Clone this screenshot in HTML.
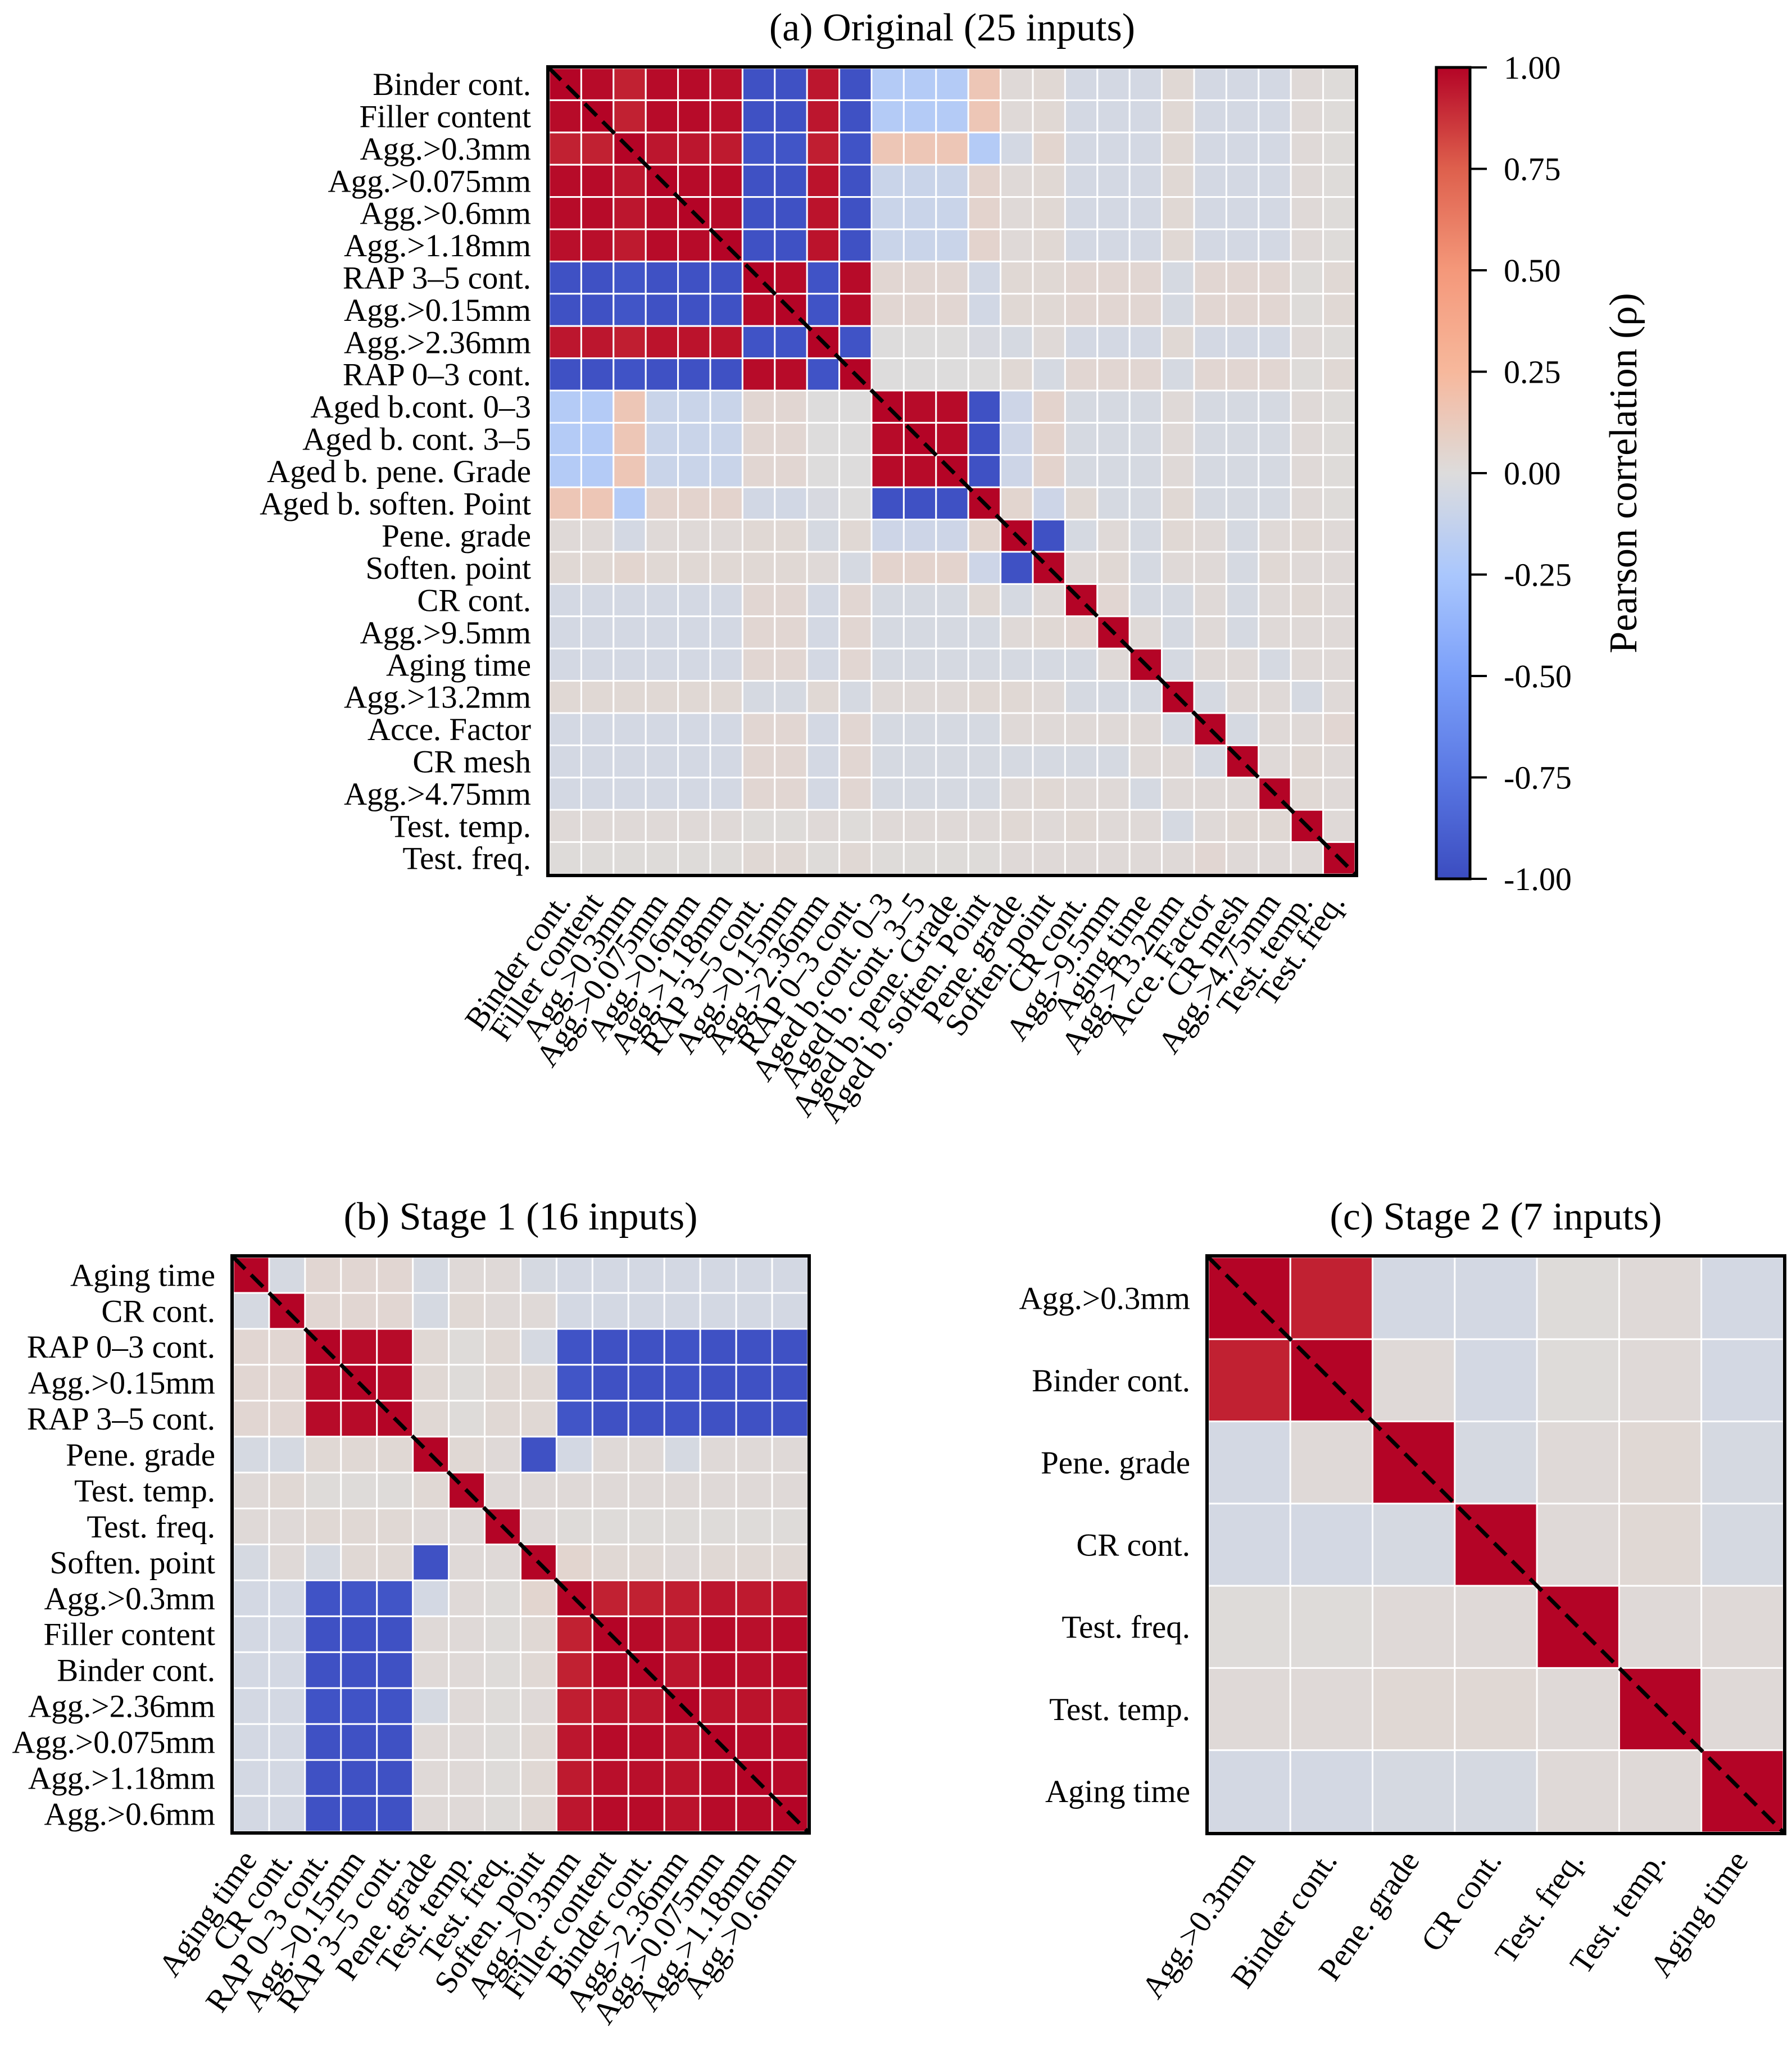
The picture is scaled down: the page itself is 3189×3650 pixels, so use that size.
<!DOCTYPE html>
<html><head><meta charset="utf-8"><style>
html,body{margin:0;padding:0;background:#fff;}
svg{display:block;}
text{font-family:"Liberation Serif",serif;fill:#000;}
</style></head><body>
<svg id="fig" width="3189" height="3650" viewBox="0 0 3189 3650" xmlns="http://www.w3.org/2000/svg">
<defs><linearGradient id="cbgrad" x1="0" y1="1" x2="0" y2="0"></linearGradient></defs>
</svg>
<script>
// ---- data ----
const labelsA = ["Binder cont.","Filler content","Agg.>0.3mm","Agg.>0.075mm","Agg.>0.6mm","Agg.>1.18mm","RAP 3–5 cont.","Agg.>0.15mm","Agg.>2.36mm","RAP 0–3 cont.","Aged b.cont. 0–3","Aged b. cont. 3–5","Aged b. pene. Grade","Aged b. soften. Point","Pene. grade","Soften. point","CR cont.","Agg.>9.5mm","Aging time","Agg.>13.2mm","Acce. Factor","CR mesh","Agg.>4.75mm","Test. temp.","Test. freq."];
// rows 0-13: all 25 columns
const rowsTop = [
[1,.98,.92,.98,.98,.97,-.97,-.97,.95,-.97,-.2,-.2,-.2,.15, .02,.03,-.05,-.05,-.05,.03,-.05,-.05,-.05,.02,.01],
[.98,1,.92,.98,.98,.97,-.97,-.97,.95,-.97,-.2,-.2,-.2,.15, .02,.03,-.05,-.05,-.05,.03,-.05,-.05,-.05,.02,.01],
[.92,.92,1,.95,.95,.94,-.95,-.95,.93,-.96,.15,.15,.15,-.2, -.05,.05,-.05,-.05,-.05,.03,-.05,-.05,-.05,.02,.01],
[.98,.98,.95,1,.98,.98,-.97,-.97,.96,-.97,-.1,-.1,-.1,.06, .02,.03,-.05,-.05,-.05,.03,-.05,-.05,-.05,.02,.01],
[.98,.98,.95,.98,1,.98,-.97,-.97,.96,-.97,-.1,-.1,-.1,.06, .02,.03,-.05,-.05,-.05,.03,-.05,-.05,-.05,.02,.01],
[.97,.97,.94,.98,.98,1,-.97,-.97,.96,-.97,-.1,-.1,-.1,.06, .02,.03,-.05,-.05,-.05,.03,-.05,-.05,-.05,.02,.01],
[-.97,-.97,-.95,-.97,-.97,-.97,1,.98,-.96,.98,.04,.04,.04,-.06, .03,.03,.04,.04,.04,-.04,.04,.04,.04,.01,.03],
[-.97,-.97,-.95,-.97,-.97,-.97,.98,1,-.96,.98,.04,.04,.04,-.06, .03,.03,.04,.04,.04,-.04,.04,.04,.04,.01,.03],
[.95,.95,.93,.96,.96,.96,-.96,-.96,1,-.96,0,0,0,-.03, -.04,.02,-.05,-.05,-.05,.03,-.05,-.05,-.05,.02,.01],
[-.97,-.97,-.96,-.97,-.97,-.97,.98,.98,-.96,1,0,0,0,0, .03,-.04,.04,.04,.04,-.04,.04,.04,.04,.01,.03],
[-.2,-.2,.15,-.1,-.1,-.1,.04,.04,0,0,1,.98,.98,-.97, -.08,.06,-.04,-.04,-.04,.02,-.04,-.04,-.04,.02,.01],
[-.2,-.2,.15,-.1,-.1,-.1,.04,.04,0,0,.98,1,.98,-.97, -.08,.06,-.04,-.04,-.04,.02,-.04,-.04,-.04,.02,.01],
[-.2,-.2,.15,-.1,-.1,-.1,.04,.04,0,0,.98,.98,1,-.97, -.08,.06,-.04,-.04,-.04,.02,-.04,-.04,-.04,.02,.01],
[.15,.15,-.2,.06,.06,.06,-.06,-.06,-.03,0,-.97,-.97,-.97,1, .05,-.08,.03,-.04,-.04,.03,-.04,-.04,-.04,.02,.01]
];
// rows 14-24: columns 14-24 (columns 0-13 mirror rowsTop)
const rowsBottom = [
[1,-.97,-.04,.02,-.04,.03,.02,-.04,.02,.03,.02],
[-.97,1,.02,.03,-.04,.02,.02,-.04,.03,.02,.02],
[-.04,.02,1,.04,-.04,-.04,.02,-.04,.02,.03,.02],
[.02,.03,.04,1,.02,-.04,.02,-.04,.02,.02,.02],
[-.04,-.04,-.04,.02,1,-.04,.02,.02,-.04,.02,.02],
[.03,.02,-.04,-.04,-.04,1,-.04,.02,.02,-.04,.02],
[.02,.02,.02,.02,.02,-.04,1,-.04,.02,.02,.04],
[-.04,-.04,-.04,-.04,.02,.02,-.04,1,.02,.03,.02],
[.02,.03,.02,.02,-.04,.02,.02,.02,1,.03,.02],
[.03,.02,.03,.02,.02,-.04,.02,.03,.03,1,.02],
[.02,.02,.02,.02,.02,.02,.04,.02,.02,.02,1]
];
const labelsB = ["Aging time","CR cont.","RAP 0–3 cont.","Agg.>0.15mm","RAP 3–5 cont.","Pene. grade","Test. temp.","Test. freq.","Soften. point","Agg.>0.3mm","Filler content","Binder cont.","Agg.>2.36mm","Agg.>0.075mm","Agg.>1.18mm","Agg.>0.6mm"];
const labelsC = ["Agg.>0.3mm","Binder cont.","Pene. grade","CR cont.","Test. freq.","Test. temp.","Aging time"];
const cbTicks = [1,0.75,0.5,0.25,0,-0.25,-0.5,-0.75,-1];
const cbTickLabels = ["1.00","0.75","0.50","0.25","0.00","-0.25","-0.50","-0.75","-1.00"];

// ---- build full matrix ----
const N = labelsA.length;
const M = [];
for (let i=0;i<N;i++){ M.push(new Array(N).fill(0)); }
for (let i=0;i<rowsTop.length;i++) for (let j=0;j<N;j++){ M[i][j]=rowsTop[i][j]; M[j][i]=rowsTop[i][j]; }
for (let i=0;i<rowsBottom.length;i++) for (let j=0;j<rowsBottom[i].length;j++){ M[14+i][14+j]=rowsBottom[i][j]; }
function corr(a,b){ return M[labelsA.indexOf(a)][labelsA.indexOf(b)]; }

// ---- coolwarm ----
const cw = [[0,59,76,192],[.125,89,119,227],[.25,123,159,249],[.375,170,199,253],[.5,221,220,220],[.625,247,184,156],[.75,244,152,122],[.875,222,96,77],[1,180,4,38]];
function color(v){
  let t=(v+1)/2; t=Math.max(0,Math.min(1,t));
  for(let k=0;k<cw.length-1;k++){
    const a=cw[k],b=cw[k+1];
    if(t<=b[0]){ const f=(t-a[0])/(b[0]-a[0]);
      return `rgb(${Math.round(a[1]+f*(b[1]-a[1]))},${Math.round(a[2]+f*(b[2]-a[2]))},${Math.round(a[3]+f*(b[3]-a[3]))})`; }
  }
  return "rgb(180,4,38)";
}

const svg=document.getElementById('fig');
const NS="http://www.w3.org/2000/svg";
function el(tag,attrs,parent){ const e=document.createElementNS(NS,tag); for(const k in attrs) e.setAttribute(k,attrs[k]); (parent||svg).appendChild(e); return e; }

function heatmap(name,labels,x0,y0,size,fontSize,title,titleY){
  const g=el('g',{});
  
  
  const n=labels.length, cs=size/n;
  const xs=i=>x0+i*cs;
  for(let r=0;r<n;r++) for(let c=0;c<n;c++){
    const v=corr(labels[r],labels[c]);
    const rc=el('rect',{x:xs(c),y:y0+r*cs,width:cs,height:cs,fill:color(v),stroke:'#fff','stroke-width':3},g);
    
    
  }
  const dl=el('line',{x1:x0,y1:y0,x2:x0+size,y2:y0+size,stroke:'#000','stroke-width':7,'stroke-dasharray':'30 15'},g);
  
  
  const fr=el('rect',{x:x0-2,y:y0-2,width:size+4,height:size+4,fill:'none',stroke:'#000','stroke-width':6},g);
  
  
  for(let i=0;i<n;i++){
    const t=el('text',{x:x0-32,y:y0+(i+0.5)*cs+fontSize*0.34,'text-anchor':'end','font-size':fontSize},g);
    t.textContent=labels[i];
    
    
    const cx=x0+(i+0.5)*cs+12, cy=y0+size+50;
    const tx=el('text',{x:cx,y:cy,'text-anchor':'end','font-size':fontSize,transform:`rotate(-55 ${cx} ${cy})`},g);
    tx.textContent=labels[i];
    
    
  }
  const tt=el('text',{x:x0+size/2,y:titleY,'text-anchor':'middle','font-size':70},g);
  tt.textContent=title;
  
  
}

heatmap('heatmap-original',labelsA,977,121,1435,57,'(a) Original (25 inputs)',72);
heatmap('heatmap-stage1',labelsB,415,2237,1023,57,'(b) Stage 1 (16 inputs)',2188);
heatmap('heatmap-stage2',labelsC,2150,2237,1024,57,'(c) Stage 2 (7 inputs)',2188);

// ---- colorbar ----
const grad=document.getElementById('cbgrad');
for(let k=0;k<=40;k++){ const v=-1+k/20; el('stop',{offset:(k/40),'stop-color':color(v)},grad); }
const cbX=2556, cbY0=120, cbY1=1564, cbW=60;
const cby=v=>cbY1-(v+1)/2*(cbY1-cbY0);
const cb=el('rect',{x:cbX,y:cbY0,width:cbW,height:cbY1-cbY0,fill:'url(#cbgrad)',stroke:'#000','stroke-width':5});


for(let i=0;i<cbTicks.length;i++){
  const y=cby(cbTicks[i]);
  const tk=el('line',{x1:cbX+cbW,y1:y,x2:cbX+cbW+30,y2:y,stroke:'#000','stroke-width':4});
  
  
  const tl=el('text',{x:2676,y:y+20,'font-size':58});
  tl.textContent=cbTickLabels[i];
  
  
}
const ct=el('text',{x:2912,y:842,'text-anchor':'middle','font-size':70,transform:'rotate(-90 2912 842)'});
ct.textContent='Pearson correlation (ρ)';


</script>
</body></html>
